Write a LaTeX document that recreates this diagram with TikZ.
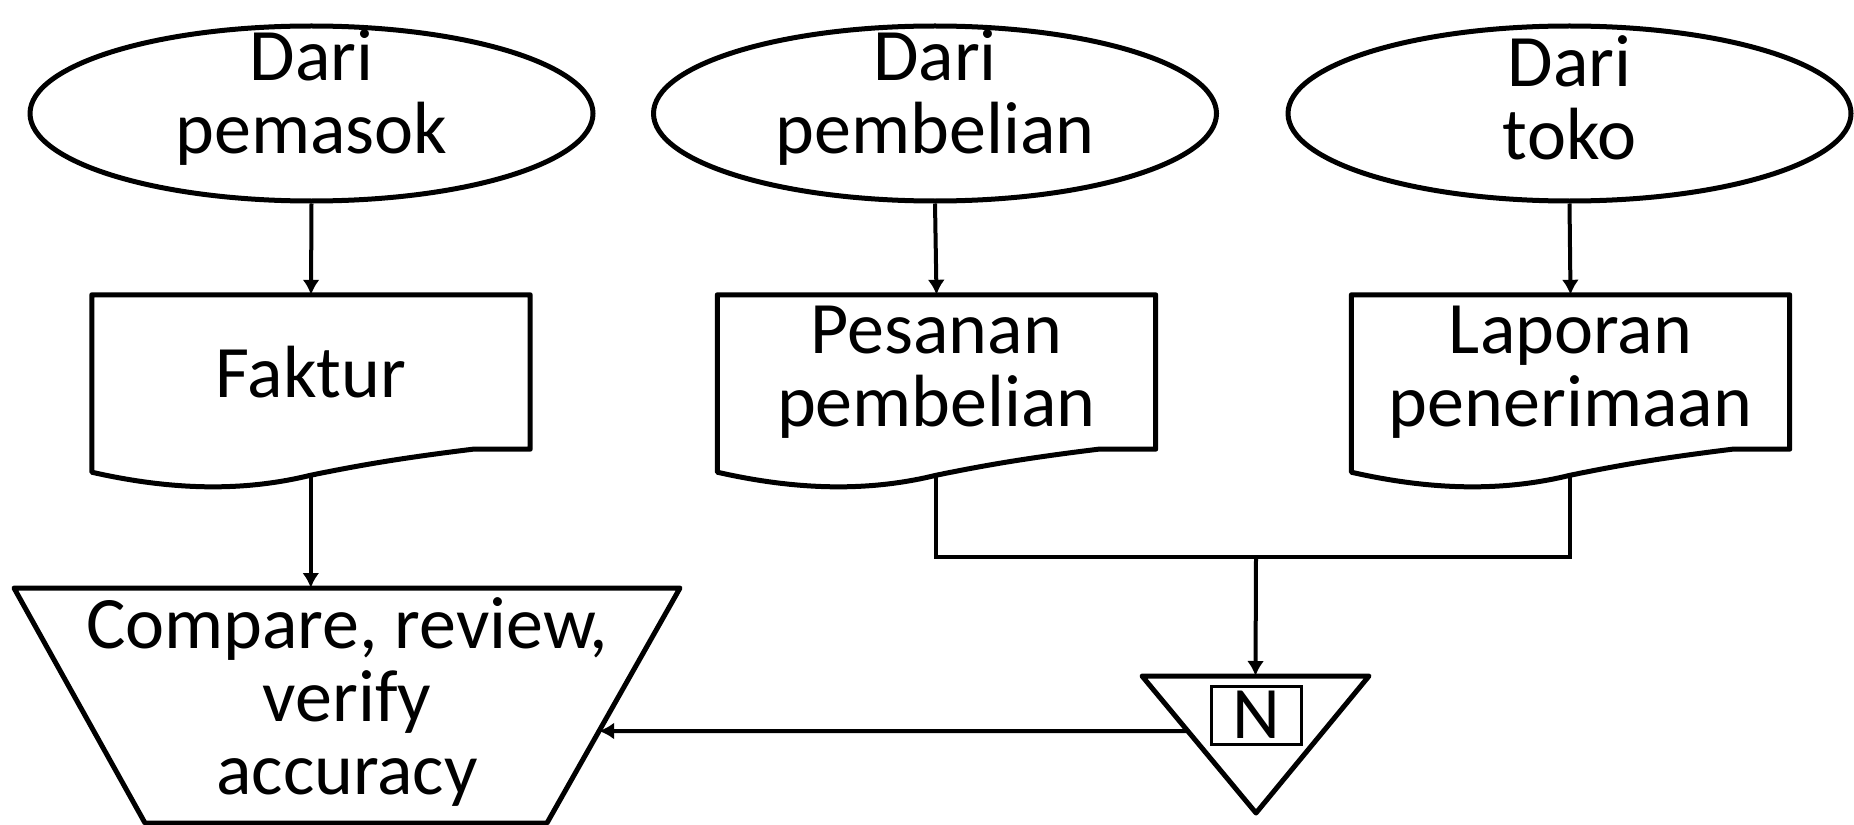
\documentclass[tikz,border=0pt]{standalone}
\usepackage{fontspec}
\setmainfont{Carlito}
\usetikzlibrary{shapes.geometric,arrows.meta,calc}
\tikzset{
  shp/.style={draw=black, line width=5pt, line join=round},
  conn/.style={draw=black, line width=4pt},
  arr/.style={conn, -{Latex[length=15pt,width=17pt]}},
  txt/.style={font=\fontsize{74}{73}\selectfont, align=center, inner sep=0pt, text=black},
  src/.style={ellipse, shp, minimum width=563pt, minimum height=175pt, inner sep=0pt},
  docnode/.style={rectangle, inner sep=0pt, minimum width=438pt, minimum height=154pt},
}
\newcommand\docpath[1]{%
  \draw[shp] ($(#1.south west)+(0,23)$) -- (#1.north west) -- (#1.north east) -- (#1.south east)
    -- ($(#1.south west)+(381,0)$)
    .. controls ($(#1.south west)+(308,9)$) and ($(#1.south west)+(268,16)$) .. ($(#1.south west)+(219,26)$)
    .. controls ($(#1.south west)+(158,41)$) and ($(#1.south west)+(88,43)$) .. ($(#1.south west)+(0,23)$) -- cycle;
  \coordinate (#1b) at ($(#1.south west)+(219,26)$);}
\begin{document}
\begin{tikzpicture}[x=1pt,y=-1pt]
\useasboundingbox (0,0) rectangle (1854,824);
% sources
\node[src] (e1) at (311.5,113.5) {};
\node[src] (e2) at (935,113.5) {};
\node[src] (e3) at (1569.5,113.5) {};
\node[txt] (t1) at (311.5,98) {Dari\\pemasok};
\node[txt] (t2) at (935,98) {Dari\\pembelian};
\node[txt] (t3) at (1569.5,98) {Dari\\toko};
% documents
\node[docnode,txt] (d1) at (311,372) {Faktur};
\node[docnode,txt] (d2) at (936.5,372) {Pesanan\\pembelian};
\node[docnode,txt] (d3) at (1570.5,372) {Laporan\\penerimaan};
\docpath{d1}
\docpath{d2}
\docpath{d3}
% trapezoid (manual operation)
\coordinate (tTL) at (14,588);
\coordinate (tTR) at (680,588);
\coordinate (tBR) at (547,823);
\coordinate (tBL) at (145,823);
\draw[shp] (tTL) -- (tTR) -- (tBR) -- (tBL) -- cycle;
\node[txt] (cmp) at (347,702) {Compare, review,\\verify\\accuracy};
\coordinate (cmpE) at ($(tTR)!0.6085!(tBR)$);
% triangle (file)
\coordinate (rL) at (1142,676);
\coordinate (rR) at (1369,676);
\coordinate (rA) at (1256,813);
\draw[shp] (rL) -- (rR) -- (rA) -- cycle;
\coordinate (rT) at ($(rL)!0.5!(rR)$);
\coordinate (rE) at ($(rL)!0.4015!(rA)$);
\node[txt, draw, line width=3pt, minimum width=90pt, minimum height=58pt] (n) at (1256,715) {N};
% connectors
\draw[arr] (e1.south) -- (d1.north);
\draw[arr] (e2.south) -- (d2.north);
\draw[arr] (e3.south) -- (d3.north);
\draw[arr] (d1b) -- (d1b |- tTL);
\coordinate (jn) at (1256,557);
\draw[conn] (d2b) |- (jn) -| (d3b);
\draw[arr] (jn) -- (rT);
\draw[arr] (rE) -- (cmpE);
\end{tikzpicture}
\end{document}
